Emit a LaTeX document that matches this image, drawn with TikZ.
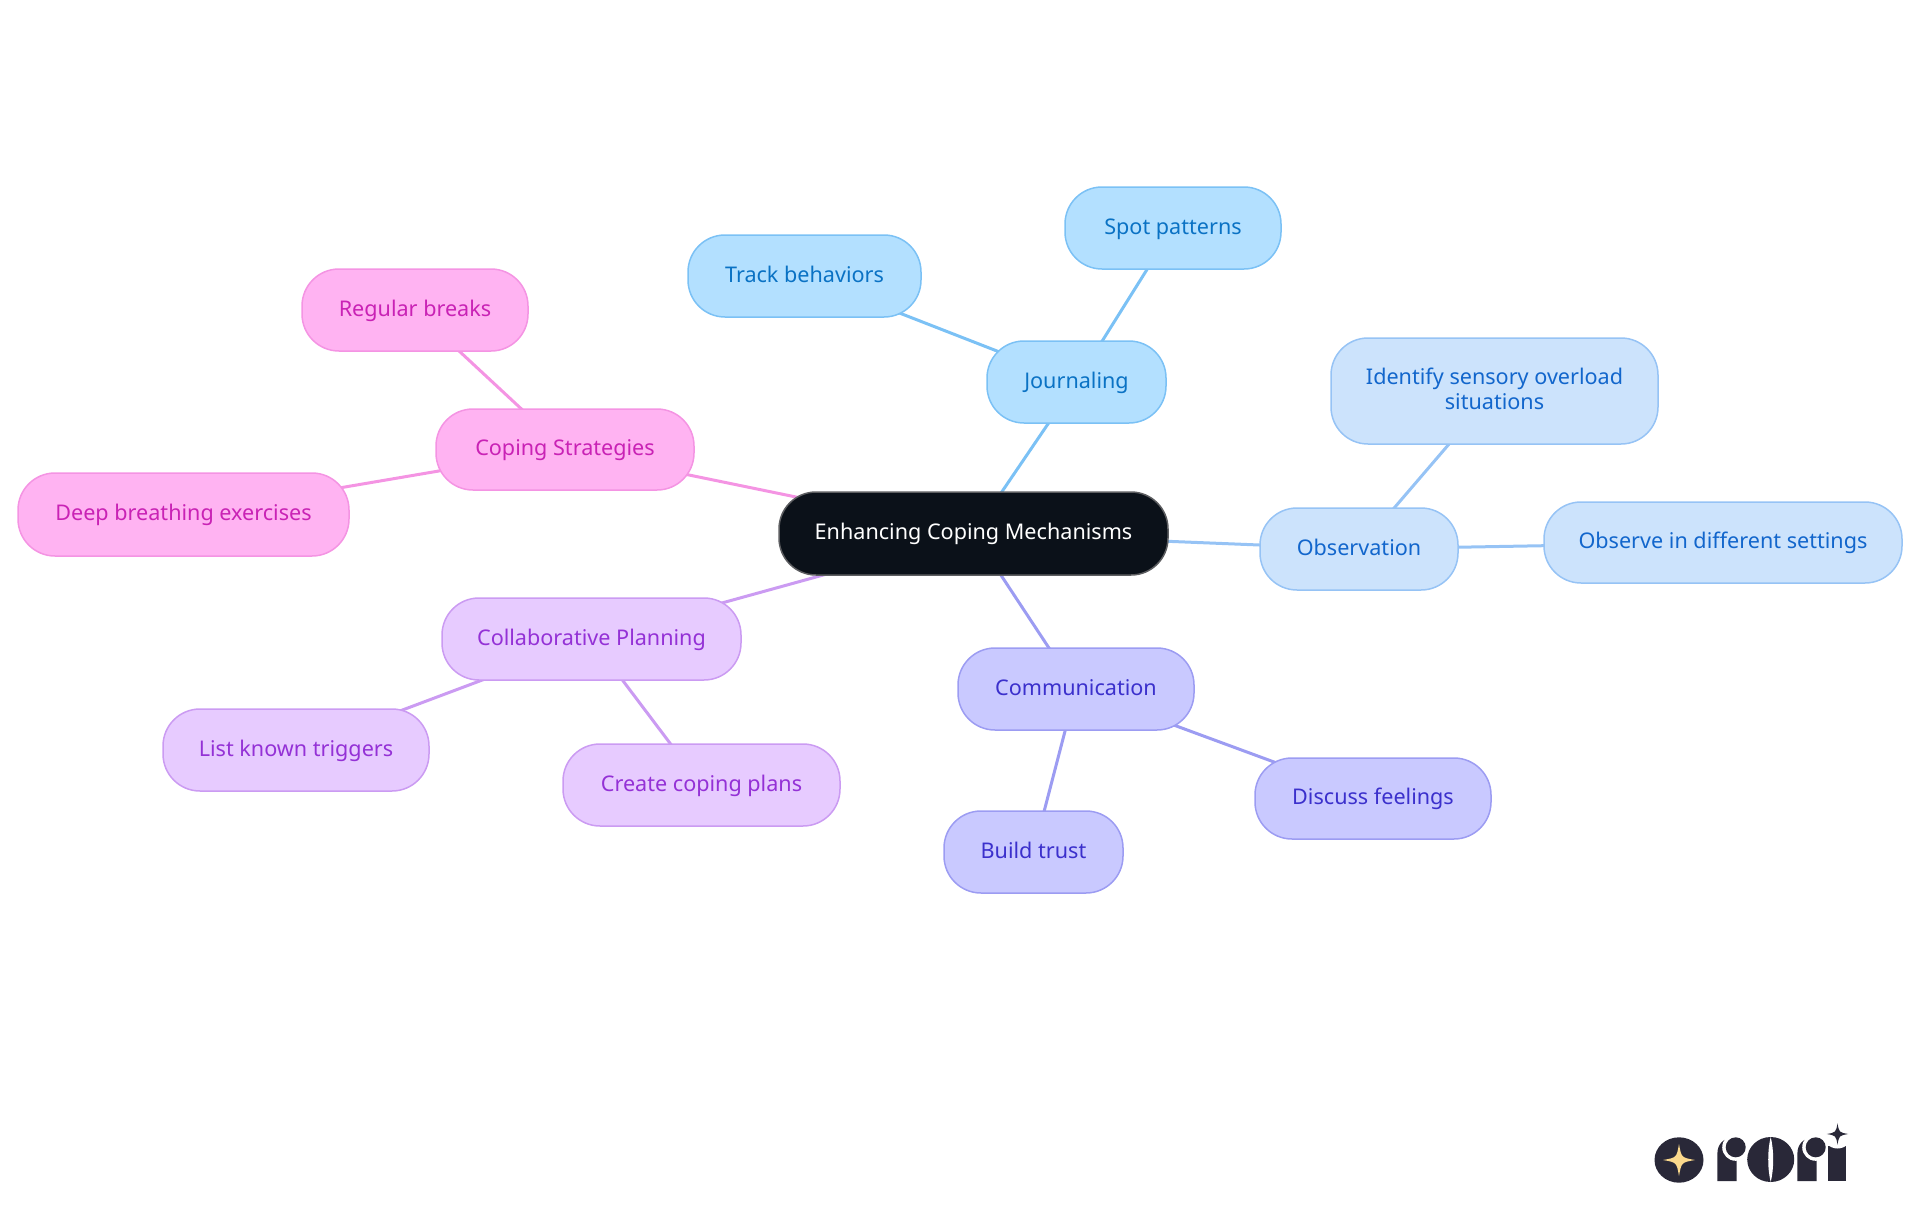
\documentclass[tikz,border=0pt]{standalone}
\usepackage{fontspec}
\usepackage{xcolor}
\setmainfont{Noto Sans}
\usetikzlibrary{backgrounds}
\definecolor{inkroot}{HTML}{0B1119}
\definecolor{inklogo}{HTML}{292838}
\definecolor{starlogo}{HTML}{FBD98C}
\definecolor{jourfill}{HTML}{B3E0FF}
\definecolor{jourline}{HTML}{7BC1F5}
\definecolor{jourtext}{HTML}{0A72C4}
\definecolor{obsvfill}{HTML}{CCE3FC}
\definecolor{obsvline}{HTML}{96C3F5}
\definecolor{obsvtext}{HTML}{1266CC}
\definecolor{commfill}{HTML}{C9C9FF}
\definecolor{commline}{HTML}{9C9CF2}
\definecolor{commtext}{HTML}{3B30CC}
\definecolor{planfill}{HTML}{E7CBFF}
\definecolor{planline}{HTML}{CB9BF2}
\definecolor{plantext}{HTML}{9431D6}
\definecolor{copefill}{HTML}{FFB3F2}
\definecolor{copeline}{HTML}{F494E3}
\definecolor{copetext}{HTML}{C922B5}

\begin{document}
\begin{tikzpicture}[
      x=1pt, y=-1pt, font=\fontsize{21.6}{25}\selectfont,
      pill/.style={draw, line width=1.5pt, rounded corners=37pt, align=center, inner sep=0pt,
        execute at begin node={\rule{0pt}{18pt}}, execute at end node={\rule[-5.2pt]{0pt}{5.2pt}}},
      rootbox/.style={pill, draw=gray!70!inkroot, fill=inkroot, text=white},
      jourbox/.style={pill, draw=jourline, fill=jourfill, text=jourtext},
      obsvbox/.style={pill, draw=obsvline, fill=obsvfill, text=obsvtext},
      commbox/.style={pill, draw=commline, fill=commfill, text=commtext},
      planbox/.style={pill, draw=planline, fill=planfill, text=plantext},
      copebox/.style={pill, draw=copeline, fill=copefill, text=copetext},
      spark/.pic={\fill (0,-1) .. controls (.15,-.15) .. (1,0) .. controls (.15,.15) .. (0,1) .. controls (-.15,.15) .. (-1,0) .. controls (-.15,-.15) .. cycle;},
      rshape/.pic={
        \fill[inklogo] (-18.3,33.7) -- (-18.3,6) .. controls (-18.3,-3) and (-12,-9.3) .. (-4,-9.3) -- (1,-9.3) -- (1,33.7) -- cycle;
        \fill[white] (0,0) circle (13.5);
        \fill[inklogo] (0,0) circle (10);}
    ]
    \useasboundingbox (0,0) rectangle (1920,1215);
    \foreach \n/\x/\y/\w/\h/\s/\t in {
      root/973.5/533.5/389/83/rootbox/Enhancing Coping Mechanisms,
      jour/1076.5/382/179/82/jourbox/Journaling,
      spot/1173/228/216/82/jourbox/Spot patterns,
      track/804.5/276/233/82/jourbox/Track behaviors,
      obsv/1359/549/198/82/obsvbox/Observation,
      ident/1494.5/391/327/106/obsvbox/{Identify sensory overload\\situations},
      settings/1723/542.5/358/81/obsvbox/Observe in different settings,
      comm/1076/689/236/82/commbox/Communication,
      feel/1373/798.5/236/81/commbox/Discuss feelings,
      trust/1033.5/852/179/82/commbox/Build trust,
      plan/591.5/639/299/82/planbox/Collaborative Planning,
      trig/296/750/266/82/planbox/List known triggers,
      cplan/701.5/785/277/82/planbox/Create coping plans,
      cope/565/449.5/258/81/copebox/Coping Strategies,
      brk/415/310/226/82/copebox/Regular breaks,
      deep/183.5/514.5/331/83/copebox/Deep breathing exercises} {
      \node[\s, minimum width=\w pt, minimum height=\h pt] (\n) at (\x,\y) {\t};
    }
    \begin{pgfonlayer}{background}
      \foreach \a/\b/\c in {
        root/jour/jourline, jour/spot/jourline, jour/track/jourline,
        root/obsv/obsvline, obsv/ident/obsvline, obsv/settings/obsvline,
        root/comm/commline, comm/feel/commline, comm/trust/commline,
        root/plan/planline, plan/trig/planline, plan/cplan/planline,
        root/cope/copeline, cope/brk/copeline, cope/deep/copeline} {
        \draw[\c, line width=3pt] (\a.center) -- (\b.center);
      }
    \end{pgfonlayer}
    % logo
    \fill[inklogo] (1679,1160) ellipse (24.5 and 22.7);
    \pic[starlogo, scale=16] at (1679,1160) {spark};
    \pic at (1735.7,1147.3) {rshape};
    \fill[inklogo] (1770.7,1159.5) ellipse (23.5 and 22.5);
    \fill[white] (1770.7,1137) .. controls (1774,1150) and (1774,1169) .. (1770.7,1182) .. controls (1767.4,1169) and (1767.4,1150) .. cycle;
    \pic at (1815.7,1147.3) {rshape};
    \fill[inklogo] (1828.3,1181) -- (1828.3,1146) -- (1846,1146) -- (1846,1181) -- cycle;
    \fill[white] (1837.5,1134) circle (14.5);
    \pic[inklogo, scale=10.7] at (1837.5,1134) {spark};
  \end{tikzpicture}
\end{document}
